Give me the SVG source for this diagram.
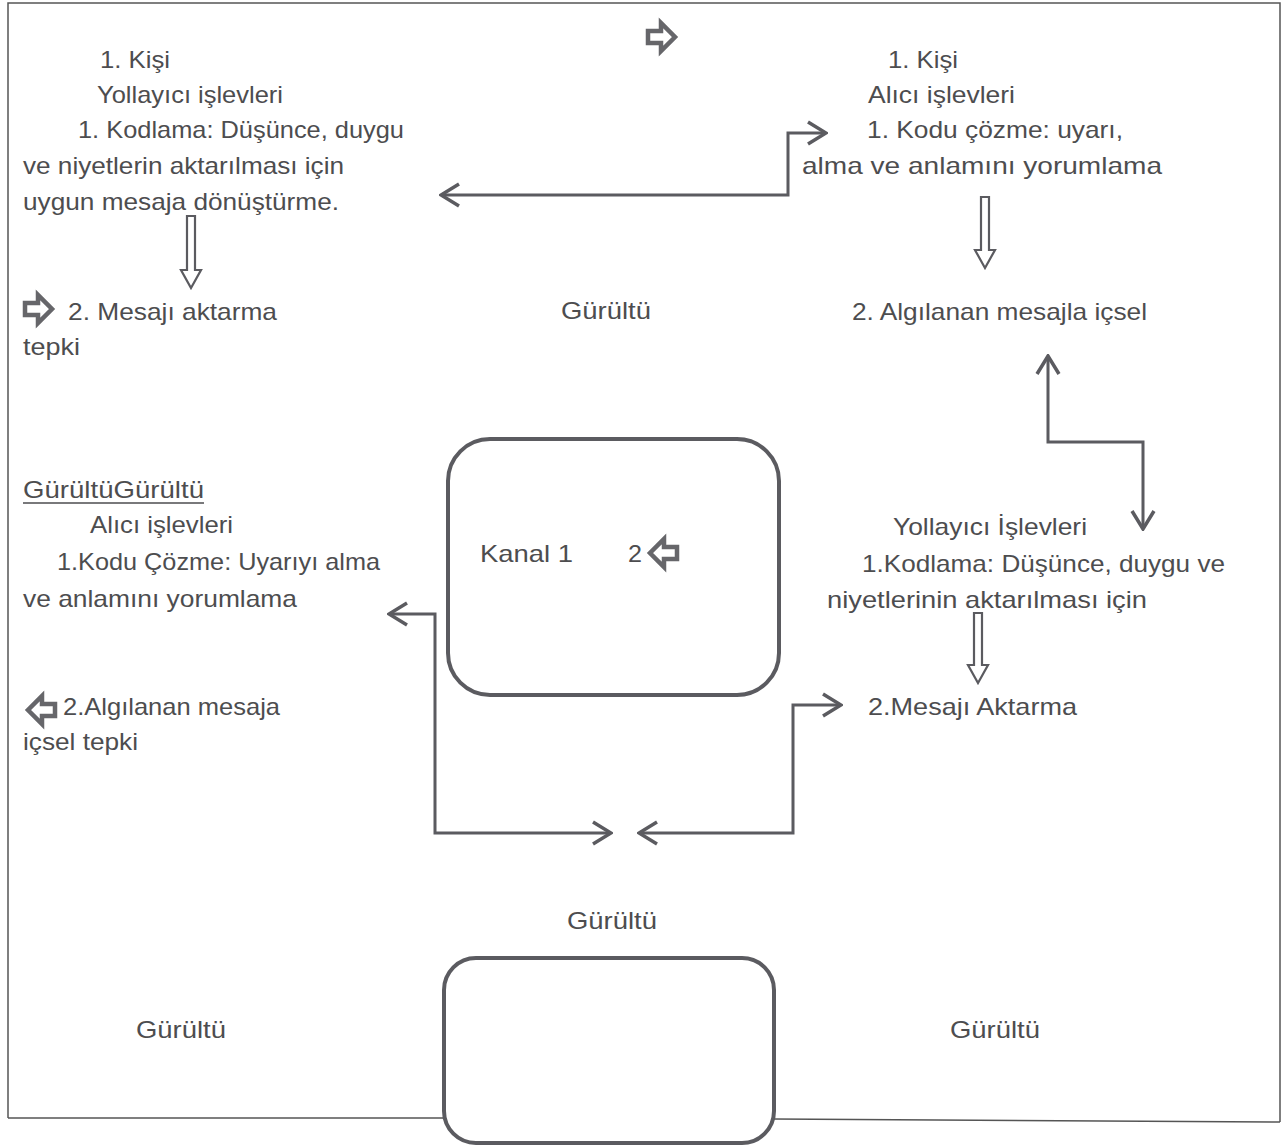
<svg xmlns="http://www.w3.org/2000/svg" width="1288" height="1147" viewBox="0 0 1288 1147">
<style>
  text { font-family: "Liberation Sans", Arial, sans-serif; font-size: 24px; fill: #4d4d4f; }
  .conn { fill: none; stroke: #5b5b60; stroke-width: 3; }
  .box { fill: #fff; stroke: #5b5b60; stroke-width: 4; }
  .blk { fill: #fff; stroke: #66666a; stroke-width: 4.5; stroke-linejoin: miter; }
  .dbl { fill: #fff; stroke: #5b5b60; stroke-width: 2.2; }
  .frame { fill: none; stroke: #555; stroke-width: 1.5; }
</style>
<defs>
  <marker id="chev" viewBox="0 0 22 26" refX="20" refY="13" markerWidth="22" markerHeight="26" markerUnits="userSpaceOnUse" orient="auto-start-reverse">
    <path d="M2,2 L20,13 L2,24" fill="none" stroke="#5b5b60" stroke-width="3.5"/>
  </marker>
  <path id="blkR" d="M2,10 H15 V2 L29,16 L15,30 V22 H2 Z"/>
</defs>

<rect width="1288" height="1147" fill="#fff"/>

<g id="frame">
  <path class="frame" d="M8,1118 V3 H1280 V1122"/>
  <path class="frame" d="M8,1118 L445,1118 M773,1119 L1280,1122"/>
</g>

<g id="node-sender1">
  <text x="100" y="68" textLength="70" lengthAdjust="spacingAndGlyphs">1. Kişi</text>
  <text x="97" y="103" textLength="186" lengthAdjust="spacingAndGlyphs">Yollayıcı işlevleri</text>
  <text x="78" y="138" textLength="326" lengthAdjust="spacingAndGlyphs">1. Kodlama: Düşünce, duygu</text>
  <text x="23" y="174" textLength="321" lengthAdjust="spacingAndGlyphs">ve niyetlerin aktarılması için</text>
  <text x="23" y="210" textLength="316" lengthAdjust="spacingAndGlyphs">uygun mesaja dönüştürme.</text>
</g>

<g id="node-sender1-transfer">
  <use href="#blkR" class="blk" transform="translate(23,293)"/>
  <text x="68" y="320" textLength="209" lengthAdjust="spacingAndGlyphs">2. Mesajı aktarma</text>
  <text x="23" y="355" textLength="57" lengthAdjust="spacingAndGlyphs">tepki</text>
</g>

<g id="node-top-arrow">
  <use href="#blkR" class="blk" transform="translate(646,21)"/>
</g>

<g id="node-receiver1">
  <text x="888" y="68" textLength="70" lengthAdjust="spacingAndGlyphs">1. Kişi</text>
  <text x="868" y="103" textLength="147" lengthAdjust="spacingAndGlyphs">Alıcı işlevleri</text>
  <text x="867" y="138" textLength="256" lengthAdjust="spacingAndGlyphs">1. Kodu çözme: uyarı,</text>
  <text x="802" y="174" textLength="360" lengthAdjust="spacingAndGlyphs">alma ve anlamını yorumlama</text>
</g>

<g id="node-receiver1-reaction">
  <text x="852" y="320" textLength="295" lengthAdjust="spacingAndGlyphs">2. Algılanan mesajla içsel</text>
</g>

<g id="node-noise-top">
  <text x="561" y="319" textLength="90" lengthAdjust="spacingAndGlyphs">Gürültü</text>
</g>

<g id="node-receiver2">
  <text x="23" y="498" textLength="181" lengthAdjust="spacingAndGlyphs">GürültüGürültü</text>
  <line x1="23" y1="503" x2="204" y2="503" stroke="#4d4d4f" stroke-width="1.5"/>
  <text x="90" y="533" textLength="143" lengthAdjust="spacingAndGlyphs">Alıcı işlevleri</text>
  <text x="57" y="570" textLength="323" lengthAdjust="spacingAndGlyphs">1.Kodu Çözme: Uyarıyı alma</text>
  <text x="23" y="607" textLength="274" lengthAdjust="spacingAndGlyphs">ve anlamını yorumlama</text>
</g>

<g id="node-receiver2-reaction">
  <use href="#blkR" class="blk" transform="translate(57,694) scale(-1,1)"/>
  <text x="63" y="715" textLength="217" lengthAdjust="spacingAndGlyphs">2.Algılanan mesaja</text>
  <text x="23" y="750" textLength="115" lengthAdjust="spacingAndGlyphs">içsel tepki</text>
</g>

<g id="node-channel">
  <rect class="box" x="448" y="439" width="331" height="256" rx="42" ry="42"/>
  <text x="480" y="562" textLength="93" lengthAdjust="spacingAndGlyphs">Kanal  1</text>
  <text x="628" y="562" textLength="14" lengthAdjust="spacingAndGlyphs">2</text>
  <use href="#blkR" class="blk" transform="translate(679,537) scale(-1,1)"/>
</g>

<g id="node-sender2">
  <text x="893" y="535" textLength="194" lengthAdjust="spacingAndGlyphs">Yollayıcı İşlevleri</text>
  <text x="862" y="572" textLength="363" lengthAdjust="spacingAndGlyphs">1.Kodlama: Düşünce, duygu ve</text>
  <text x="827" y="608" textLength="320" lengthAdjust="spacingAndGlyphs">niyetlerinin aktarılması için</text>
</g>

<g id="node-sender2-transfer">
  <text x="868" y="715" textLength="209" lengthAdjust="spacingAndGlyphs">2.Mesajı Aktarma</text>
</g>

<g id="node-noise-bottom">
  <text x="567" y="929" textLength="90" lengthAdjust="spacingAndGlyphs">Gürültü</text>
</g>

<g id="node-box-bottom">
  <rect class="box" x="444" y="958" width="330" height="185" rx="32" ry="32"/>
</g>

<g id="node-noise-left">
  <text x="136" y="1038" textLength="90" lengthAdjust="spacingAndGlyphs">Gürültü</text>
</g>

<g id="node-noise-right">
  <text x="950" y="1038" textLength="90" lengthAdjust="spacingAndGlyphs">Gürültü</text>
</g>

<g id="connectors">
  <path class="conn" d="M441,195 H788 V133 H826" marker-start="url(#chev)" marker-end="url(#chev)"/>
  <path class="conn" d="M1048,356 V442 H1143 V529" marker-start="url(#chev)" marker-end="url(#chev)"/>
  <path class="conn" d="M389,614 H435 V833 H611" marker-start="url(#chev)" marker-end="url(#chev)"/>
  <path class="conn" d="M639,833 H793 V705 H841" marker-start="url(#chev)" marker-end="url(#chev)"/>
  <path class="dbl" d="M187,216 H195 V270 H201 L191,288 L181,270 H187 Z"/>
  <path class="dbl" d="M981,197 H989 V250 H995 L985,268 L975,250 H981 Z"/>
  <path class="dbl" d="M974,613 H982 V665 H988 L978,683 L968,665 H974 Z"/>
</g>
</svg>
